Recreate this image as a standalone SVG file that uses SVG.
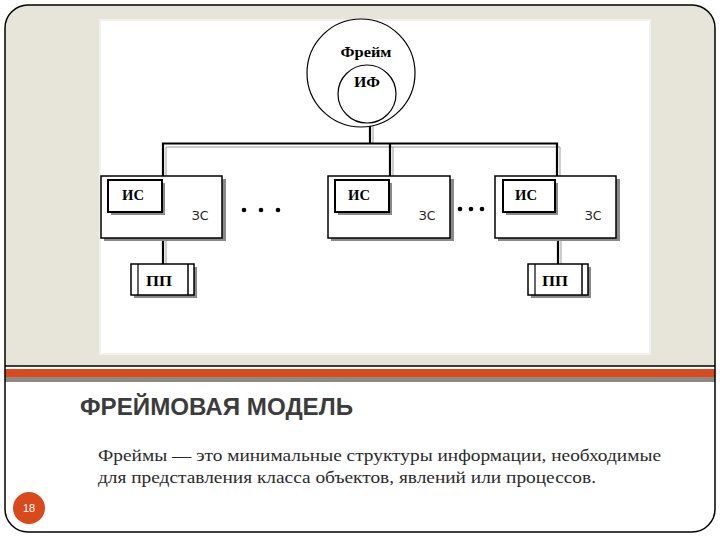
<svg xmlns="http://www.w3.org/2000/svg" width="720" height="540" viewBox="0 0 720 540">
<style>
.bold{font-family:"Liberation Serif",serif;font-weight:bold;font-size:14px;fill:#000}
.zs{font-family:"DejaVu Sans",sans-serif;font-size:12.5px;fill:#222}
.shadow{fill:#8a8a8a}
.box{fill:#fff;stroke:#000;stroke-width:1.5}
.ibox{fill:#fff;stroke:#000;stroke-width:2}
.wire{stroke:#000;stroke-width:2.2;fill:none}
.wire2{stroke:#9a9a9a;stroke-width:1;fill:none}
</style>
<rect x="0" y="0" width="720" height="540" fill="#fff"/>
<path d="M5,366 V29 Q5,5 29,5 H692 Q715,5 715,29 V366 Z" fill="#e7e4da"/>
<rect x="99" y="19" width="552" height="336" fill="#f2f2ec"/>
<rect x="101" y="21" width="548" height="332" fill="#fff"/>
<line x1="5" y1="366" x2="715" y2="366" stroke="#000" stroke-width="1.5"/>
<rect x="5" y="369" width="710" height="8" fill="#d84a1c"/>
<rect x="5" y="377" width="710" height="5" fill="#8c8a86"/>
<rect x="5" y="5" width="710" height="527" rx="23" ry="23" fill="none" stroke="#000" stroke-width="1.5"/>

<g id="connectors">
<path class="wire2" d="M166,147 H560 M166,147 V176 M393,147 V176 M560,147 V176 M373,126 V144 M166,240 V264 M561,240 V264"/>
<path class="wire" d="M163,176 V143.5 H557 V176 M390,143.5 V176 M370,126 V143.5 M163,239 V264 M558,239 V264"/>
</g>

<g id="frame-node">
<circle cx="361" cy="73" r="54" fill="#fff" stroke="#000" stroke-width="1.2"/>
<circle cx="367" cy="94" r="29" fill="#fff" stroke="#000" stroke-width="1.2"/>
<text class="bold" x="366" y="57" text-anchor="middle" font-size="15.5" textLength="51" lengthAdjust="spacingAndGlyphs">Фрейм</text>
<text class="bold" x="367" y="87" text-anchor="middle" textLength="26" lengthAdjust="spacingAndGlyphs">ИФ</text>
</g>

<g id="slot1">
<rect class="shadow" x="104" y="179" width="122" height="62"/>
<rect class="box" x="101" y="176" width="121" height="62"/>
<rect class="shadow" x="111" y="183" width="54" height="32"/>
<rect class="ibox" x="108" y="180" width="54" height="32"/>
<text class="bold" x="133" y="200" text-anchor="middle" textLength="22" lengthAdjust="spacingAndGlyphs">ИС</text>
<text class="zs" x="200" y="220" text-anchor="middle">ЗС</text>
</g>
<g id="slot2">
<rect class="shadow" x="331" y="179" width="123" height="62"/>
<rect class="box" x="328" y="176" width="122" height="62"/>
<rect class="shadow" x="338" y="183" width="54" height="32"/>
<rect class="ibox" x="335" y="180" width="54" height="32"/>
<text class="bold" x="359" y="200" text-anchor="middle" textLength="22" lengthAdjust="spacingAndGlyphs">ИС</text>
<text class="zs" x="427" y="220" text-anchor="middle">ЗС</text>
</g>
<g id="slot3">
<rect class="shadow" x="498" y="179" width="122" height="62"/>
<rect class="box" x="495" y="176" width="121" height="62"/>
<rect class="shadow" x="506" y="183" width="52" height="32"/>
<rect class="ibox" x="503" y="180" width="52" height="32"/>
<text class="bold" x="526" y="200" text-anchor="middle" textLength="22" lengthAdjust="spacingAndGlyphs">ИС</text>
<text class="zs" x="593" y="220" text-anchor="middle">ЗС</text>
</g>

<g id="dots1" fill="#000">
<circle cx="244" cy="210" r="2.3"/><circle cx="261" cy="210" r="2.3"/><circle cx="278" cy="210" r="2.3"/>
</g>
<g id="dots2" fill="#000">
<circle cx="460" cy="209" r="2.3"/><circle cx="471" cy="209" r="2.3"/><circle cx="482" cy="209" r="2.3"/>
</g>

<g id="proc1">
<rect class="shadow" x="134" y="267" width="63" height="31"/>
<rect class="box" x="131" y="264" width="63" height="31"/>
<line x1="138" y1="264" x2="138" y2="295" stroke="#000" stroke-width="1.2"/>
<line x1="188" y1="264" x2="188" y2="295" stroke="#000" stroke-width="1.5"/>
<text class="bold" x="159" y="286" text-anchor="middle" textLength="26" lengthAdjust="spacingAndGlyphs">ПП</text>
</g>
<g id="proc2">
<rect class="shadow" x="531" y="267" width="60" height="31"/>
<rect class="box" x="528" y="264" width="60" height="31"/>
<line x1="535" y1="264" x2="535" y2="295" stroke="#000" stroke-width="1.2"/>
<line x1="582" y1="264" x2="582" y2="295" stroke="#000" stroke-width="1.5"/>
<text class="bold" x="555" y="286" text-anchor="middle" textLength="26" lengthAdjust="spacingAndGlyphs">ПП</text>
</g>

<text x="80" y="415" font-family="Liberation Sans,Arial,sans-serif" font-weight="bold" font-size="23" fill="#3c3c3c" textLength="273" lengthAdjust="spacingAndGlyphs">ФРЕЙМОВАЯ МОДЕЛЬ</text>
<text x="98" y="461" font-family="Liberation Serif,serif" font-size="17" fill="#2a2a2a" textLength="563" lengthAdjust="spacingAndGlyphs">Фреймы — это минимальные структуры информации, необходимые</text>
<text x="98" y="483" font-family="Liberation Serif,serif" font-size="17" fill="#2a2a2a" textLength="498" lengthAdjust="spacingAndGlyphs">для представления класса объектов, явлений или процессов.</text>

<g id="page-number">
<circle cx="29" cy="508" r="16" fill="#d84a1c"/>
<text x="29" y="512" font-family="Liberation Sans,Arial,sans-serif" font-size="11" fill="#fff" text-anchor="middle">18</text>
</g>
</svg>
